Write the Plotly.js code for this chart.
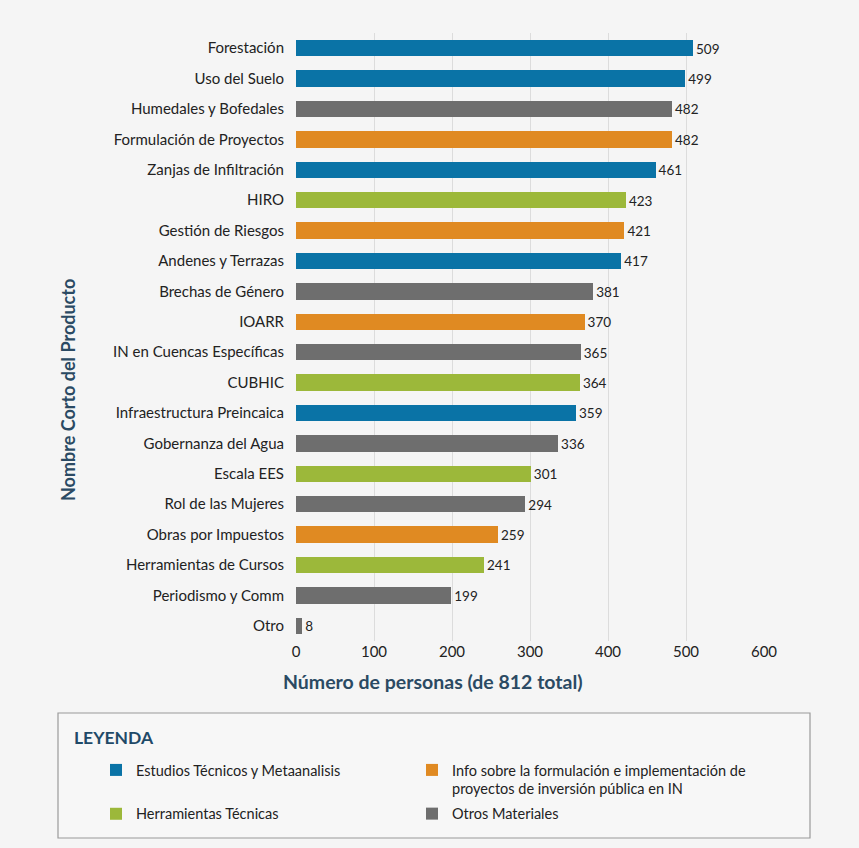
<!DOCTYPE html>
<html>
<head>
<meta charset="utf-8">
<script src="https://cdn.plot.ly/plotly-3.0.1.min.js"></script>
<style>
html,body{margin:0;padding:0;background:#f5f5f5;}
#chart{width:859px;height:848px;}
</style>
</head>
<body>
<div id="chart"></div>
<script>
// Categories from top to bottom
const categories = ["Forestación","Uso del Suelo","Humedales y Bofedales","Formulación de Proyectos","Zanjas de Infiltración","HIRO","Gestión de Riesgos","Andenes y Terrazas","Brechas de Género","IOARR","IN en Cuencas Específicas","CUBHIC","Infraestructura Preincaica","Gobernanza del Agua","Escala EES","Rol de las Mujeres","Obras por Impuestos","Herramientas de Cursos","Periodismo y Comm","Otro"];
const values = [509,499,482,482,461,423,421,417,381,370,365,364,359,336,301,294,259,241,199,8];
const groups = ["E","E","O","I","E","H","I","E","O","I","O","H","E","O","H","O","I","H","O","O"];

const groupKeys = ["E","I","H","O"];
const groupNames = ["Estudios Técnicos y Metaanalisis","Info sobre la formulación e implementación de<br>proyectos de inversión pública en IN","Herramientas Técnicas","Otros Materiales"];
const groupColors = ["#0a73a6","#e08a22","#9cb83a","#6e6e6e"];
const groupLegend = ["legend","legend2","legend","legend2"];

const xTitle = "Número de personas (de 812 total)";
const yTitle = "Nombre Corto del Producto";
const legendTitle = "LEYENDA";

const FONT = "Lato, 'Open Sans', sans-serif";
const W = 859, H = 848;
const M = {l: 296, r: 95, t: 33, b: 207, autoexpand: false};
const PW = W - M.l - M.r, PH = H - M.t - M.b;
const px2x = p => (p - M.l) / PW;
const px2y = p => (H - M.b - p) / PH;

const traces = groupKeys.map((g, gi) => {
  const ys = [], xs = [];
  categories.forEach((c, i) => { if (groups[i] === g) { ys.push(c); xs.push(values[i]); } });
  return {
    type: "bar", orientation: "h",
    x: xs, y: ys, name: groupNames[gi],
    legend: groupLegend[gi], legendgroup: "g" + g,
    marker: {color: groupColors[gi]},
    text: xs.map(String), textposition: "outside",
    textfont: {family: FONT, size: 14, color: "#222"},
    cliponaxis: false,
    hoverinfo: "x+y"
  };
});

const legendCommon = {
  orientation: "v",
  xref: "container", yref: "container",
  xanchor: "left", yanchor: "top",
  bgcolor: "rgba(0,0,0,0)", borderwidth: 0,
  traceorder: "grouped",
  itemclick: false, itemdoubleclick: false,
  font: {family: FONT, size: 14.5, color: "#222"}
};

const layout = {
  width: W, height: H,
  paper_bgcolor: "#f5f5f5", plot_bgcolor: "#f5f5f5",
  margin: M,
  barmode: "stack", bargap: 0.46,
  font: {family: FONT, color: "#222", size: 13},
  xaxis: {
    range: [0, 600], dtick: 100, tick0: 0, automargin: false,
    showgrid: true, gridcolor: "#dcdcdc", gridwidth: 1,
    zeroline: false, showline: false,
    tickfont: {family: FONT, size: 15, color: "#222"},
    ticks: "", ticklen: 0
  },
  yaxis: {
    type: "category", categoryorder: "array", categoryarray: categories.slice().reverse(),
    autorange: false, range: [-0.5, 19.5], automargin: false,
    showgrid: false, zeroline: false, showline: false,
    tickfont: {family: FONT, size: 15, color: "#222"},
    ticks: "outside", ticklen: 8, tickcolor: "rgba(0,0,0,0)"
  },
  showlegend: true,
  legend: Object.assign({}, legendCommon, {x: 96 / W, y: (H - 754) / H, tracegroupgap: 22}),
  legend2: Object.assign({}, legendCommon, {x: 412 / W, y: (H - 754) / H, tracegroupgap: 3, valign: "top"}),
  shapes: [{
    type: "rect", xref: "paper", yref: "paper", layer: "below",
    x0: px2x(58), x1: px2x(810), y0: px2y(838), y1: px2y(713),
    line: {color: "#9a9a9a", width: 1.2}, fillcolor: "#f7f7f7"
  }],
  annotations: [
    {text: "<b>" + xTitle + "</b>", xref: "paper", yref: "paper", x: px2x(433), y: px2y(681),
     xanchor: "center", yanchor: "middle", showarrow: false,
     font: {family: FONT, size: 19.5, color: "#2b4a63"}},
    {text: "<b>" + yTitle + "</b>", xref: "paper", yref: "paper", x: px2x(68), y: px2y(390),
     xanchor: "center", yanchor: "middle", showarrow: false, textangle: -90,
     font: {family: FONT, size: 18, color: "#2b4a63"}},
    {text: "<b>" + legendTitle + "</b>", xref: "paper", yref: "paper", x: px2x(72), y: px2y(737),
     xanchor: "left", yanchor: "middle", showarrow: false,
     font: {family: FONT, size: 17.5, color: "#1f4a68"}}
  ]
};

Plotly.newPlot("chart", traces, layout, {displayModeBar: false, staticPlot: true});
</script>
</body>
</html>
